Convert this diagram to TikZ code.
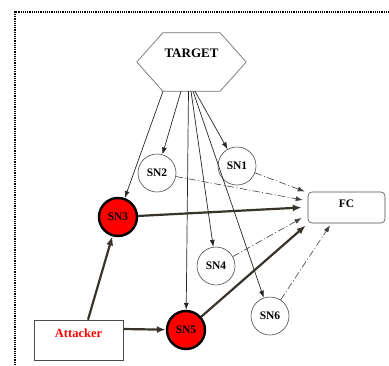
\documentclass[tikz,border=0pt]{standalone}
\usepackage{fontspec}
\setmainfont{Liberation Serif}
\usetikzlibrary{arrows.meta}
\tikzset{
    sensor/.style={circle, draw=black!70, line width=0.6pt, minimum size=38pt,
    	inner sep=0pt, font=\bfseries\fontsize{11.5}{12}\selectfont},
    hacked/.style={sensor, fill=red, draw=black, line width=2.4pt}
}
\tikzset{
    sense/.style={draw=black!85, line width=0.7pt, -{Latex[length=7pt,width=5pt]}},
    report/.style={draw=black!75, line width=0.6pt,
    	dash pattern=on 7pt off 2.5pt on 1pt off 2.5pt,
    	-{Latex[length=7pt,width=5pt]}},
    attack/.style={draw=black!80!olive, line width=2.2pt,
    	-{Latex[length=9pt,width=7pt]}}
}

\begin{document}
\begin{tikzpicture}[x=1pt,y=-1pt]
	\useasboundingbox (0,0) rectangle (389,365);
	% dotted frame
	\draw[line width=1.6pt, dash pattern=on 1.2pt off 1pt] (15,365) -- (15,12) -- (389,12);

	\node (target) [minimum width=109pt, minimum height=58pt, inner sep=0pt,
		label={[yshift=8.5pt, font=\bfseries\fontsize{13}{14}\selectfont]center:TARGET}]
		at (191.5,62) {};
	\draw[black!55, line width=0.7pt] ([xshift=26pt]target.north west)
		-- ([xshift=-26pt]target.north east) -- (target.east)
		-- ([xshift=-26pt]target.south east) -- ([xshift=26pt]target.south west)
		-- (target.west) -- cycle;

	\node (sn1) [sensor] at (237,166) {SN1};
	\node (sn2) [sensor] at (157,173) {SN2};
	\node (sn3) [hacked] at (118,217) {SN3};
	\node (sn4) [sensor] at (216,266) {SN4};
	\node (sn5) [hacked] at (186,330) {SN5};
	\node (sn6) [sensor] at (270,316) {SN6};
	\node (fc) [draw=black!70, line width=0.6pt, rounded corners=4pt,
		minimum width=77pt, minimum height=31pt, inner sep=0pt,
		label={[yshift=4pt, font=\bfseries\fontsize{11.5}{12}\selectfont]center:FC}]
		at (346.5,207.5) {};
	\node (attacker) [draw=black!70, line width=0.6pt, minimum width=89pt,
		minimum height=40pt, inner sep=0pt,
		label={[yshift=7pt, text=red, font=\bfseries\fontsize{12.5}{13}\selectfont]center:Attacker}]
		at (78.5,340) {};

	\draw[sense] ([xshift=-28.5pt]target.south) -- (sn3);
	\draw[sense] ([xshift=-10.5pt]target.south) -- (sn2);
	\draw[sense] ([xshift=-3pt]target.south) -- (sn5);
	\draw[sense] ([xshift=-0.5pt]target.south) -- (sn4);
	\draw[sense] ([xshift=1.5pt]target.south) -- (sn6);
	\draw[sense] ([xshift=3.5pt]target.south) -- (sn1);

	\draw[report] (sn1) -- ([xshift=-3pt,yshift=16pt]fc.west);
	\draw[report] (sn2) -- ([xshift=-5pt,yshift=7.5pt]fc.west);
	\draw[report] (sn4) -- ([xshift=-6pt,yshift=-10.5pt]fc.west);
	\draw[report] (sn6) -- ([xshift=-16.5pt,yshift=-2pt]fc.south);

	\draw[attack] (sn3) -- ([xshift=-6pt]fc.west);
	\draw[attack] (sn5) -- ([xshift=-2pt,yshift=-18pt]fc.west);
	\draw[attack] ([xshift=9.5pt]attacker.north) -- (sn3);
	\draw[attack] ([yshift=11pt]attacker.east) -- (sn5);
\end{tikzpicture}
\end{document}
